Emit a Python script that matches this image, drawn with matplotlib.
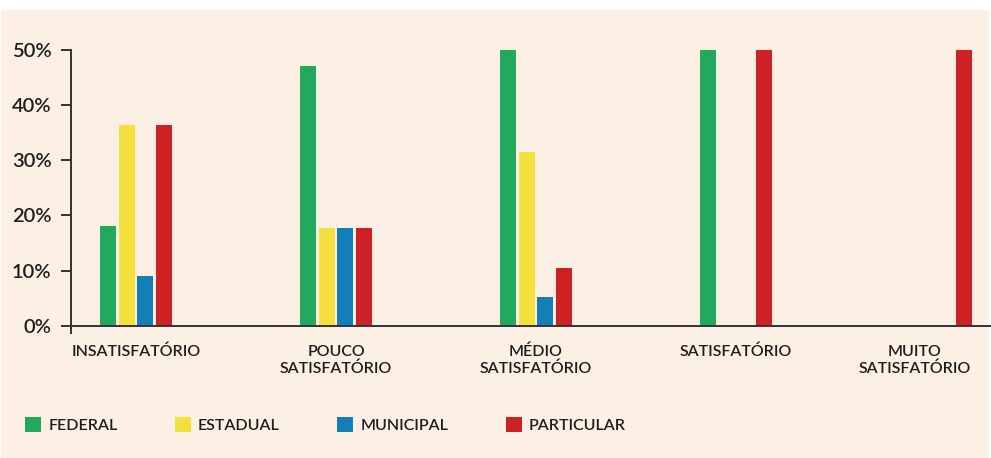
#!/usr/bin/env python3
import matplotlib.pyplot as plt
import numpy as np
from matplotlib.patches import Patch, Rectangle


categories = ["INSATISFATÓRIO", "POUCO\nSATISFATÓRIO", "MÉDIO\nSATISFATÓRIO",
              "SATISFATÓRIO", "MUITO\nSATISFATÓRIO"]
series = ["FEDERAL", "ESTADUAL", "MUNICIPAL", "PARTICULAR"]
federal = [18.18, 47.06, 52.63, 50.0, 0.0]
estadual = [36.36, 17.65, 31.58, 0.0, 0.0]
municipal = [9.09, 17.65, 5.26, 0.0, 0.0]
particular = [36.36, 17.65, 10.53, 50.0, 100.0]
yticks = [0, 10, 20, 30, 40, 50]

COLORS = ["#21AA5E", "#F3E03C", "#127FB6", "#CD2126"]
BG = "#FCEFE4"
INK = "#1E1E1E"
FONT = "Lato"


def main():
    plt.rcParams.update({"font.family": FONT, "font.weight": "semibold"})
    fig = plt.figure(figsize=(9.91, 4.58), dpi=100, facecolor="white")
    fig.patches.append(Rectangle((1 / 991, 0), 988 / 991, 448 / 458,
                                 transform=fig.transFigure, facecolor=BG,
                                 edgecolor="none", zorder=-10))
    ax = fig.add_axes([71 / 991, (458 - 333) / 458, 920 / 991, 283 / 458])
    ax.set_facecolor("none")

    x = np.arange(len(categories))
    width = 0.08
    step = 0.0933
    values = [federal, estadual, municipal, particular]
    for i, (vals, color, name) in enumerate(zip(values, COLORS, series)):
        ax.bar(x + (i - 1.5) * step, vals, width, color=color, label=name, zorder=2)

    ax.set_xlim(-0.325, 4.275)
    ax.set_ylim(-1.3, 50)
    ax.spines["top"].set_visible(False)
    ax.spines["right"].set_visible(False)
    ax.spines["bottom"].set_position(("data", 0))
    for s in ("left", "bottom"):
        ax.spines[s].set_color("#333333")
        ax.spines[s].set_linewidth(1.4)
        ax.spines[s].set_zorder(3)
    ax.spines["left"].set_bounds(-1.3, 50)

    ax.set_yticks(yticks)
    ax.set_yticklabels([f"{t}%" for t in yticks], fontsize=14.5, color=INK)
    ax.tick_params(axis="y", length=7, width=1.4, color="#333333", pad=7)
    ax.set_xticks([])
    for i, (xi, label) in enumerate(zip(x, categories)):
        last = i == len(categories) - 1
        ax.text(xi + (0.175 if last else 0), -3.4, label,
                ha="right" if last else "center", multialignment="center",
                va="top", fontsize=11.5, color=INK, linespacing=1.25)

    handles = [Patch(facecolor=c, edgecolor="none", label=s) for c, s in zip(COLORS, series)]
    fig.legend(handles=handles, loc="center left", bbox_to_anchor=(25 / 991, 1 - 425 / 458),
               ncol=4, frameon=False, fontsize=11.5, handlelength=1.0, handleheight=1.1,
               handletextpad=0.45, columnspacing=3.6, borderpad=0, borderaxespad=0,
               labelcolor=INK)

    fig.savefig("out.png", dpi=100, facecolor="white")
    plt.close(fig)


if __name__ == "__main__":
    main()
